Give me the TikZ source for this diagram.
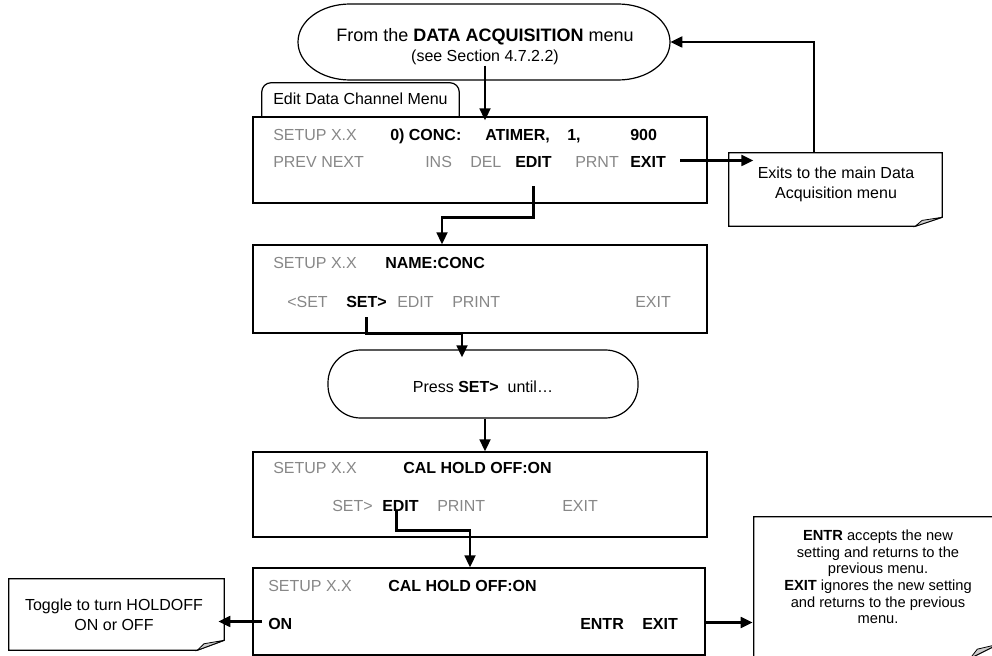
\documentclass[tikz,border=0pt]{standalone}
\usepackage{fontspec}
\setmainfont{Liberation Sans}
\usetikzlibrary{fit,arrows.meta,calc}
\definecolor{keygray}{RGB}{135,135,135}
\definecolor{foldgray}{RGB}{205,205,205}
\tikzset{
  frame/.style={draw, line width=0.9pt, inner sep=0pt},
  hidden/.style={inner sep=0pt},
  outline/.style={line width=0.9pt},
  foldpath/.style={line width=0.6pt, fill=foldgray},
  conn/.style={line width=2pt, -{Triangle[length=9pt,width=8pt]}},
  txt/.style={anchor=base west, inner sep=0pt, font=\fontsize{12}{14}\selectfont},
  dim/.style={txt, text=keygray},
  key/.style={txt, font=\fontsize{12}{14}\selectfont\bfseries},
  notetxt/.style={align=center, inner sep=0pt, font=\fontsize{12}{15}\selectfont},
}
\newcommand{\drawnote}[3]{%
  \draw[outline] (#1.south west) -- (#1.north west) -- (#1.north east) -- ($(#1.south east)+(0,-#3)$) -- ($(#1.south east)+(-#2,0)$) -- cycle;
  \draw[foldpath] ($(#1.south east)+(-#2,0)$) -- ($(#1.south east)+(0,-#3)$) -- ($(#1.south east)+(-0.75*#2,-0.65*#3)$) -- cycle;}
\begin{document}
\begin{tikzpicture}[x=0.75pt,y=-0.75pt]
\useasboundingbox (0,0) rectangle (992,656);

% start terminator
\node[hidden, fit={(298,4) (670,80)}] (start) {};
\draw[outline] (350,4) -- (618,4) .. controls (647,4) and (670,21) .. (670,42)
  .. controls (670,63) and (647,80) .. (618,80) -- (350,80)
  .. controls (321,80) and (298,63) .. (298,42)
  .. controls (298,21) and (321,4) .. (350,4) -- cycle;
\node[anchor=base, inner sep=0pt, font=\fontsize{13.5}{15}\selectfont] (title) at (485,42) {From the \textbf{DATA ACQUISITION} menu};
\node[anchor=base, inner sep=0pt, font=\fontsize{12}{14}\selectfont] (sub) at (485,62) {(see Section 4.7.2.2)};

% tab
\node[hidden, fit={(262,83) (459,117)}] (tab) {};
\draw[outline, rounded corners=7pt] (tab.south west) |- (tab.north) -| (tab.south east);
\node[txt] (tabtxt) at (273,105) {Edit Data Channel Menu};

% menu 1
\node[frame, fit={(253,117) (707,203)}] (m1) {};
\node[dim] (m1setup) at (273,141) {SETUP X.X};
\node[key] (m1conc) at (390,141) {0) CONC:};
\node[key] (m1atimer) at (485,141) {ATIMER,};
\node[key] (m1one) at (567,141) {1,};
\node[key] (m1nine) at (630,141) {900};
\node[dim] (m1pn) at (273,167) {PREV NEXT};
\node[dim] (m1ins) at (425,167) {INS};
\node[dim] (m1del) at (470,167) {DEL};
\node[key] (m1edit) at (515,167) {EDIT};
\node[dim] (m1prnt) at (575,167) {PRNT};
\node[key] (m1exit) at (630,167) {EXIT};

% note exits
\node[hidden, fit={(729,153) (942,226)}] (n1) {};
\drawnote{n1}{27}{9}
\node[notetxt] (n1txt) at (836,184) {Exits to the main Data\\Acquisition menu};

% menu 2
\node[frame, fit={(253,245) (707,333)}] (m2) {};
\node[dim] (m2setup) at (273,268) {SETUP X.X};
\node[key] (m2name) at (385,268) {NAME:CONC};
\node[dim] (m2prev) at (287,307) {<SET};
\node[key] (m2set) at (346,307) {SET>};
\node[dim] (m2edit) at (397,307) {EDIT};
\node[dim] (m2print) at (452,307) {PRINT};
\node[dim] (m2exit) at (635,307) {EXIT};

% press terminator
\node[frame, rounded corners=24.5pt, fit={(328,350) (638,418)}] (press) {};
\node[anchor=base, inner sep=0pt, font=\fontsize{12}{14}\selectfont] (presstxt) at (483,392) {Press \textbf{SET>}\ \ until…};

% menu 3
\node[frame, fit={(253,452) (707,537)}] (m3) {};
\node[dim] (m3setup) at (273,473) {SETUP X.X};
\node[key] (m3cal) at (403,473) {CAL HOLD OFF:ON};
\node[dim] (m3set) at (332,511) {SET>};
\node[key] (m3edit) at (382,511) {EDIT};
\node[dim] (m3print) at (437,511) {PRINT};
\node[dim] (m3exit) at (562,511) {EXIT};

% menu 4
\node[frame, fit={(253,568) (705,655)}] (m4) {};
\node[dim] (m4setup) at (268,591) {SETUP X.X};
\node[key] (m4cal) at (388,591) {CAL HOLD OFF:ON};
\node[key] (m4on) at (268,629) {ON};
\node[key] (m4entr) at (580,629) {ENTR};
\node[key] (m4exit) at (642,629) {EXIT};

% left note
\node[hidden, fit={(9,579) (224,650)}] (n2) {};
\drawnote{n2}{27}{10}
\node[notetxt] (n2txt) at (114,615) {Toggle to turn HOLDOFF\\ON or OFF};

% right note
\node[hidden, fit={(754,517) (998,658)}] (n3) {};
\drawnote{n3}{28}{14}
\node[notetxt, font=\fontsize{11}{12.4}\selectfont] (n3txt) at (878,577) {\textbf{ENTR} accepts the new\\setting and returns to the\\previous menu.\\\textbf{EXIT} ignores the new setting\\and returns to the previous\\menu.};

% connectors
\coordinate (k1) at (485,0);
\coordinate (k2) at (442,0);
\coordinate (k3) at (462,0);
\coordinate (k4) at (470,0);
\coordinate (r1) at (814,0);
\draw[conn] (k1 |- sub.south) -- ($(k1 |- m1.north)+(0,4)$);
\draw[conn] ($(m1exit.east)+(14,-1)$) -- ($(n1txt.west |- m1exit.east)+(-4,-1)$);
\draw[conn] (r1 |- n1.north) |- (start.east);
\draw[conn] ($(m1edit.south)+(0,19)$) -- ++(0,31) -| (k2 |- m2.north);
\draw[conn] ($(m2set.south)+(0,10)$) -- (m2set.south |- m2.south) -| ($(k3 |- press.north)+(0,8)$);
\draw[conn] (k1 |- press.south) -- (k1 |- m3.north);
\draw[conn] ($(m3edit.south)+(-4,0)$) -- ++(0,19) -| (k4 |- m4.north);
\draw[conn] ($(m4on.west)+(-6,-2)$) -- ($(n2.east |- m4on.west)+(-6,-2)$);
\draw[conn] ($(m4.east |- m4exit.east)+(0,-1)$) -- ($(n3.west |- m4exit.east)+(-1,-1)$);
\end{tikzpicture}
\end{document}
